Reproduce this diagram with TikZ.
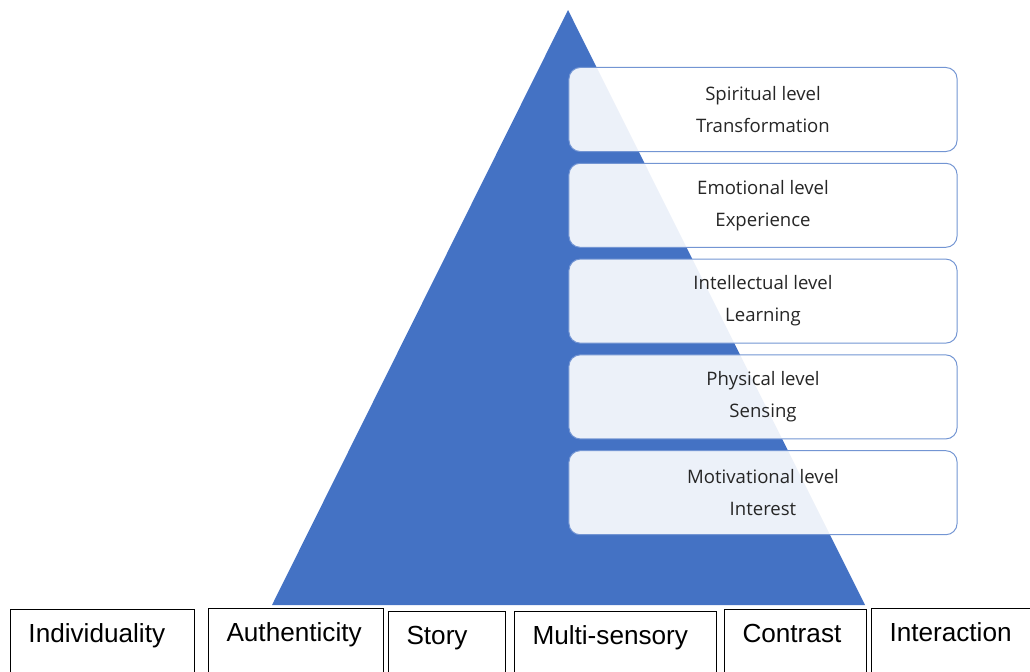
\documentclass[tikz,border=0pt]{standalone}
\usepackage{fontspec}
\setmainfont{Liberation Sans}
\newfontfamily\levelfont{Open Sans}
\usepackage{tikz}
\usetikzlibrary{positioning}
\definecolor{pyrblue}{HTML}{4472C4}

\tikzset{
  levelbox/.style={draw=pyrblue!75, line width=0.7pt, rounded corners=8pt,
    fill=white, fill opacity=0.9, text opacity=1, text=black!85,
    minimum width=9.7cm, minimum height=2.1cm, align=center,
    font=\levelfont\fontsize{13.2}{22.7}\selectfont},
  factorbox/.style={draw, line width=0.7pt, anchor=north west, align=left,
    inner xsep=0.45cm, inner ysep=0pt, text height=0.83cm, text depth=1.7cm,
    font=\fontsize{18.6}{20}\selectfont}
}

\begin{document}
\begin{tikzpicture}[x=0.025cm,y=-0.025cm]
\useasboundingbox (0,0) rectangle (1030,671);
\clip (0,0) rectangle (1030,671);

% the pyramid
\coordinate (top) at (568,10);
\coordinate (bl) at (272,605);
\coordinate (br) at (865,605);
\fill[pyrblue] (top) -- (br) -- (bl) -- cycle;

% levels, top to bottom
\foreach \nm/\lvl/\what [count=\i from 0] in
  {spirit/Spiritual level/Transformation,
   emotion/Emotional level/Experience,
   intellect/Intellectual level/Learning,
   physic/Physical level/Sensing,
   motiv/Motivational level/Interest}
  \node[levelbox] (\nm) at (763,109.5+95.8*\i) {\lvl\\\what};

% factors along the base
\foreach \nm/\lbl/\xa/\w/\ya [evaluate=\w as \tw using (\w-36)*0.025] in
  {indiv/Individuality/10/184/609,
   auth/Authenticity/208/175/608,
   story/Story/388/117/611,
   multi/Multi-sensory/514/202/611,
   contr/Contrast/724/142/609,
   inter/Interaction/871/190/608}
  \node[factorbox, text width=\tw cm] (\nm) at (\xa,\ya) {\lbl};
\end{tikzpicture}
\end{document}
